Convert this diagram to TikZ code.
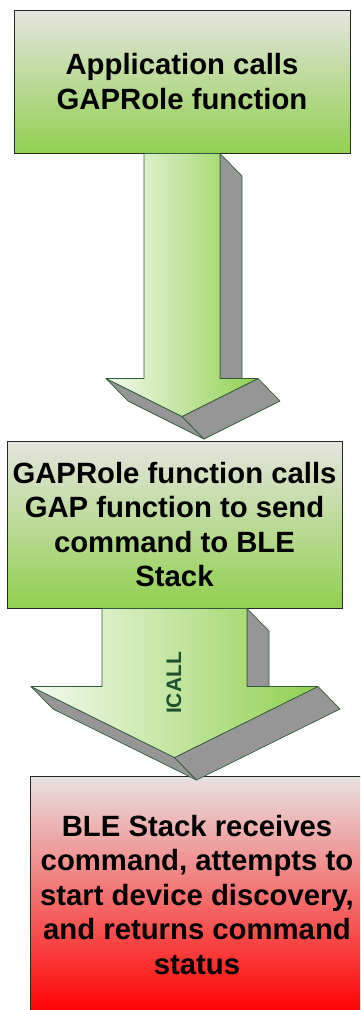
\documentclass[tikz,border=0pt]{standalone}
\usepackage{fontspec}
\setmainfont{Liberation Sans}
\usetikzlibrary{calc}
\definecolor{boxgreen}{RGB}{146,208,80}
\definecolor{boxgray}{RGB}{228,228,222}
\definecolor{redtop}{RGB}{232,226,226}
\definecolor{boxred}{RGB}{255,0,0}
\definecolor{arrowpale}{RGB}{244,250,240}
\definecolor{shadegray}{RGB}{150,150,150}
\definecolor{edgegreen}{RGB}{50,90,60}
\definecolor{labelgreen}{RGB}{30,80,45}
\tikzset{
  % step boxes
  stepbox/.style={draw=black!85,line width=1pt,rectangle,inner sep=0pt,align=center,font=\fontsize{29.3}{34.5}\selectfont\bfseries},
  greenbox/.style={stepbox,top color=boxgray,bottom color=boxgreen},
  redbox/.style={stepbox,top color=redtop,bottom color=boxred},
  % block arrows
  arrowface/.style={fill=shadegray,draw=edgegreen,line width=0.7pt,line join=round},
  arrowfront/.style={left color=arrowpale,right color=boxgreen,draw=edgegreen,line width=0.7pt,line join=round},
  arrowlabel/.style={rotate=90,text=labelgreen,font=\fontsize{21}{21}\selectfont\bfseries,inner sep=0pt},
}
% #1 top centre, #2 half shaft, #3 shaft length, #4 half head, #5 head length, #6 name
\newcommand{\blockarrow}[6]{%
  \coordinate (#6-1) at ($(#1)+(-#2,0)$);
  \coordinate (#6-2) at ($(#1)+(-#2,-#3)$);
  \coordinate (#6-3) at ($(#1)+(-#4,-#3)$);
  \coordinate (#6-4) at ($(#1)+(0,-#3-#5)$);
  \coordinate (#6-5) at ($(#1)+(#4,-#3)$);
  \coordinate (#6-6) at ($(#1)+(#2,-#3)$);
  \coordinate (#6-7) at ($(#1)+(#2,0)$);
  % sides seen from below right
  \draw[arrowface] (#6-7) -- ($(#6-7)+(22,-22.5)$) -- ($(#6-6)+(22,-22.5)$) -- (#6-6) -- cycle;
  \draw[arrowface] (#6-3) -- ($(#6-3)+(22,-22.5)$) -- ($(#6-4)+(22,-22.5)$) -- (#6-4) -- cycle;
  \draw[arrowface] (#6-4) -- ($(#6-4)+(22,-22.5)$) -- ($(#6-5)+(22,-22.5)$) -- (#6-5) -- cycle;
  \draw[arrowfront] (#6-1) -- (#6-2) -- (#6-3) -- (#6-4) -- (#6-5) -- (#6-6) -- (#6-7) -- cycle;
}

\begin{document}
\begin{tikzpicture}[x=1pt,y=1pt]
  \useasboundingbox (0,0) rectangle (360,-1010);
  \clip (0,0) rectangle (360,-1010);
  % boxes
  \node[greenbox,minimum width=336pt,minimum height=143pt] (app) at (182,-81.5) {Application calls\\GAPRole function};
  \node[greenbox,minimum width=335pt,minimum height=167pt] (gap) at (174.5,-524.5) {GAPRole function calls\\GAP function to send\\command to BLE\\Stack};
  \node[redbox,minimum width=334pt,minimum height=238pt] (ble) at (197,-895) {BLE Stack receives\\command, attempts to\\start device discovery,\\and returns command\\status};
  % arrows
  \blockarrow{app.south}{38}{225}{76}{38}{arr1}
  \blockarrow{gap.south}{72.5}{78}{143.5}{71}{arr2}
  \node[arrowlabel] (icall) at ($(gap.south)+(-0.5,-74.5)$) {ICALL};
\end{tikzpicture}
\end{document}
